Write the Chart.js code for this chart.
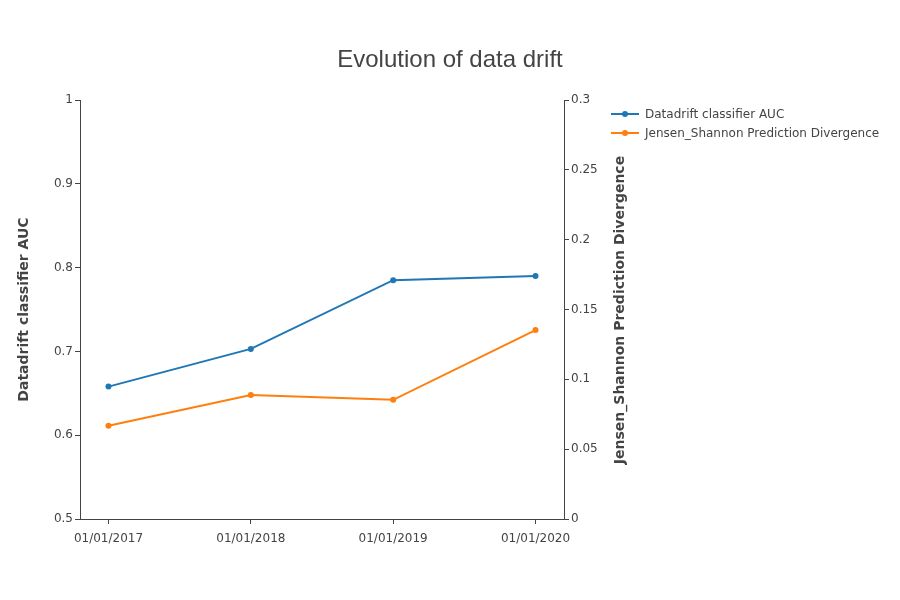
<!DOCTYPE html>
<html lang="en">
<head>
    <meta charset="UTF-8">
    <title>Evolution of data drift</title>
    <style>
        body {
            margin: 0;
            padding: 0;
            background-color: #ffffff;
        }

        #chart-container {
            width: 900px;
            height: 600px;
        }
    </style>
</head>
<body>
    <div id="chart-container">
        <canvas id="driftChart" width="900" height="600"></canvas>
    </div>

    <script src="https://cdn.jsdelivr.net/npm/chart.js"></script>
    <script>
        // Data
        const dates = ['01/01/2017', '01/01/2018', '01/01/2019', '01/01/2020'];
        const aucValues = [0.658, 0.703, 0.785, 0.790];
        const jsValues = [0.0667, 0.0888, 0.0853, 0.1353];
        const seriesNames = ['Datadrift classifier AUC', 'Jensen_Shannon Prediction Divergence'];
        const seriesColors = ['#1f77b4', '#ff7f0e'];

        const axisColor = '#444';
        const tickFont = { family: 'DejaVu Sans', size: 12 };
        const titleFont = { family: 'DejaVu Sans', size: 14, weight: 'bold' };

        // plain number labels: 1, 0.9, 0.3, 0.05 ...
        const plainNum = value => String(+value.toFixed(3));

        // Title, right axis title and legend drawn by hand, plotly-like
        const extras = {
            id: 'extras',
            afterDraw(chart) {
                const ctx = chart.ctx;
                ctx.save();
                ctx.fillStyle = axisColor;
                ctx.font = '24px "Liberation Sans", Arial, sans-serif';
                ctx.textAlign = 'center';
                ctx.textBaseline = 'middle';
                ctx.fillText('Evolution of data drift', 450, 60);

                // right axis title reads bottom to top
                ctx.save();
                ctx.translate(620, 310);
                ctx.rotate(-Math.PI / 2);
                ctx.font = 'bold 14px "DejaVu Sans", sans-serif';
                ctx.fillText(seriesNames[1], 0, 0);
                ctx.restore();

                ctx.font = '12px "DejaVu Sans", sans-serif';
                ctx.textAlign = 'left';
                seriesNames.forEach((name, i) => {
                    const y = 114 + i * 19;
                    ctx.strokeStyle = seriesColors[i];
                    ctx.lineWidth = 2;
                    ctx.beginPath();
                    ctx.moveTo(611, y);
                    ctx.lineTo(639, y);
                    ctx.stroke();
                    ctx.fillStyle = seriesColors[i];
                    ctx.beginPath();
                    ctx.arc(625, y, 3, 0, Math.PI * 2);
                    ctx.fill();
                    ctx.fillStyle = axisColor;
                    ctx.fillText(name, 645, y + 1);
                });
                ctx.restore();
            }
        };

        const points = vals => vals.map((v, i) => ({ x: i, y: v }));

        const ctx = document.getElementById('driftChart').getContext('2d');
        new Chart(ctx, {
            type: 'line',
            data: {
                datasets: [{
                    label: seriesNames[0],
                    data: points(aucValues),
                    yAxisID: 'y',
                    borderColor: seriesColors[0],
                    backgroundColor: seriesColors[0],
                    borderWidth: 2,
                    pointRadius: 3,
                    pointBorderWidth: 0,
                    tension: 0
                }, {
                    label: seriesNames[1],
                    data: points(jsValues),
                    yAxisID: 'y1',
                    borderColor: seriesColors[1],
                    backgroundColor: seriesColors[1],
                    borderWidth: 2,
                    pointRadius: 3,
                    pointBorderWidth: 0,
                    tension: 0
                }]
            },
            options: {
                responsive: false,
                animation: false,
                layout: {
                    padding: { left: 0, right: 266, top: 100, bottom: 0 }
                },
                plugins: {
                    legend: { display: false },
                    tooltip: { enabled: false }
                },
                scales: {
                    x: {
                        type: 'linear',
                        min: -0.2,
                        max: 3.2,
                        afterBuildTicks: scale => {
                            scale.ticks = dates.map((d, i) => ({ value: i }));
                        },
                        afterFit: scale => { scale.height = 81; },
                        ticks: {
                            color: axisColor,
                            font: tickFont,
                            padding: 8,
                            maxRotation: 0,
                            callback: value => dates[value]
                        },
                        grid: {
                            drawOnChartArea: false,
                            tickLength: 5,
                            color: axisColor
                        },
                        border: { color: axisColor }
                    },
                    y: {
                        position: 'left',
                        min: 0.5,
                        max: 1,
                        afterFit: scale => { scale.width = 80; },
                        ticks: {
                            stepSize: 0.1,
                            color: axisColor,
                            font: tickFont,
                            padding: 2,
                            callback: plainNum
                        },
                        grid: {
                            drawOnChartArea: false,
                            tickLength: 5,
                            color: axisColor
                        },
                        border: { color: axisColor },
                        title: {
                            display: true,
                            text: seriesNames[0],
                            color: axisColor,
                            font: titleFont,
                            padding: { top: 16, bottom: 0 }
                        }
                    },
                    y1: {
                        position: 'right',
                        min: 0,
                        max: 0.3,
                        afterFit: scale => { scale.width = 70; },
                        ticks: {
                            stepSize: 0.05,
                            color: axisColor,
                            font: tickFont,
                            padding: 2,
                            callback: plainNum
                        },
                        grid: {
                            drawOnChartArea: false,
                            tickLength: 5,
                            color: axisColor
                        },
                        border: { color: axisColor }
                    }
                }
            },
            plugins: [extras]
        });
    </script>
</body>
</html>
